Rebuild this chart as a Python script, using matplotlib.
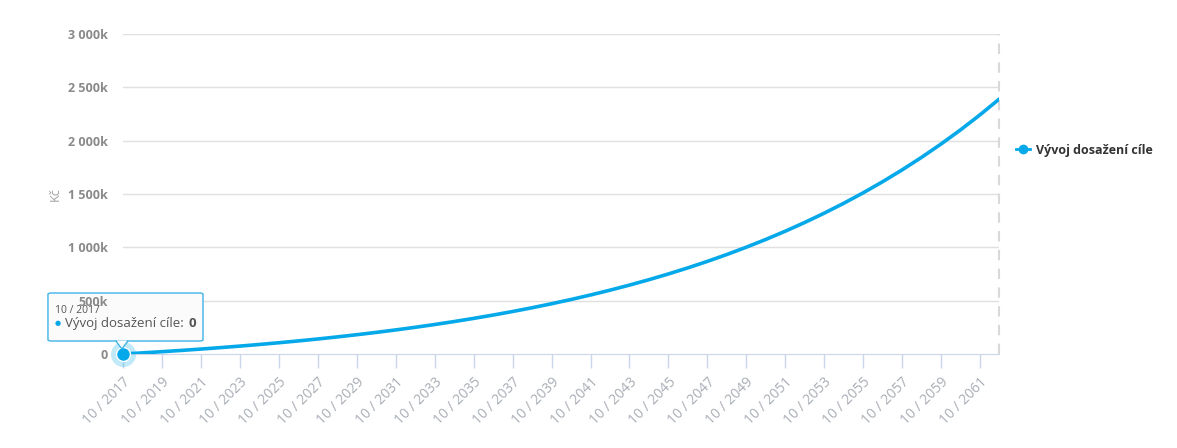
import matplotlib
matplotlib.use("Agg")
import matplotlib.pyplot as plt
from matplotlib.patches import FancyBboxPatch, Polygon
from matplotlib.lines import Line2D

# data (Kč, one point per October)
roky = list(range(2017, 2063))
hodnoty = [0, 10600, 21800, 33800, 46500, 60000, 74300, 89500, 105700, 122800,
           141000, 160400, 180900, 202700, 225900, 250500, 276600, 304400, 333900, 365200,
           398400, 433700, 471200, 511000, 553300, 598200, 645900, 696500, 750300, 807400,
           868100, 932500, 1001000, 1073600, 1150800, 1232700, 1319800, 1412200, 1510400, 1614600,
           1725300, 1842900, 1967700, 2100200, 2241000, 2390600]
y_ticks = [0, 500000, 1000000, 1500000, 2000000, 2500000, 3000000]
y_labels = ["0", "500k", "1 000k", "1 500k", "2 000k", "2 500k", "3 000k"]
x_ticks = list(range(2017, 2062, 2))
x_labels = ["10 / %d" % r for r in x_ticks]
serie = "Vývoj dosažení cíle"

modra = "#05a9e9"
plt.rcParams["font.family"] = ["Open Sans", "DejaVu Sans"]

fig = plt.figure(figsize=(11.77, 4.48), dpi=100)
ax = fig.add_axes([123.3 / 1177, 94 / 448, 876 / 1177, 320 / 448])

x = [r + 0.75 for r in roky]
ax.plot(x, hodnoty, color=modra, lw=2.6, zorder=3, solid_capstyle="round")

# gridlines by hand so the tick labels can sit above the tooltip
for t in y_ticks[1:]:
    ax.axhline(t, color="#e0e0e0", lw=1, zorder=1)

ax.set_xlim(2017.75, 2062.75)
ax.set_ylim(0, 3000000)
ax.set_yticks(y_ticks)
ax.set_yticklabels(y_labels, fontsize=9, fontweight="bold", color="#8a8a8a")
ax.tick_params(axis="y", length=0, pad=11)
ax.set_xticks([r + 0.75 for r in x_ticks])
ax.set_xticklabels(x_labels, rotation=45, ha="right", rotation_mode="anchor",
                   fontsize=10, color="#a8adb5")
ax.tick_params(axis="x", length=10, width=1, color="#ccd6eb", direction="out", pad=5)
ax.set_ylabel("Kč", color="#a0a0a0", fontsize=9)
ax.yaxis.set_label_coords(-0.07, 0.5)

for s in ["top", "right", "left"]:
    ax.spines[s].set_visible(False)
ax.spines["bottom"].set_color("#ccd6eb")
ax.yaxis.set_zorder(5)

# crosshair at the last point
ax.axvline(x[-1], color="#d9d9d9", lw=1.5, ls=(0, (5, 4)), zorder=2, clip_on=False)

# highlighted first point
ax.plot(x[0], hodnoty[0], "o", ms=18, color=modra, alpha=0.25, zorder=3.5, clip_on=False, mec="none")
ax.plot(x[0], hodnoty[0], "o", ms=10, color=modra, zorder=3.6, clip_on=False, mec="white", mew=1)

# tooltip
box = FancyBboxPatch((-0.086, 0.0406), 0.177, 0.15, boxstyle="round,pad=0,rounding_size=0.004",
                     transform=ax.transAxes, clip_on=False, facecolor="#fbfbfb",
                     edgecolor="#3fb4e6", lw=1, zorder=4)
ax.add_patch(box)
tip = Polygon([(-0.0085, 0.0406), (0.0053, 0.0406), (-0.0016, 0.016)], closed=True,
              transform=ax.transAxes, clip_on=False, facecolor="#fbfbfb",
              edgecolor="#3fb4e6", lw=1, zorder=4)
ax.add_patch(tip)
ax.add_patch(Polygon([(-0.0078, 0.0425), (0.0046, 0.0425), (-0.0016, 0.022)], closed=True,
                     transform=ax.transAxes, clip_on=False, facecolor="#fbfbfb",
                     edgecolor="none", zorder=4.1))
ax.text(-0.078, 0.137, x_labels[0], transform=ax.transAxes, fontsize=7.5, color="#555555",
        zorder=4.2, va="center")
ax.text(-0.0785, 0.094, "●", transform=ax.transAxes, fontsize=5, color=modra,
        zorder=4.2, va="center")
txt = ax.text(-0.0665, 0.094, serie + ": ", transform=ax.transAxes, fontsize=9.5,
              color="#555555", zorder=4.2, va="center")
ax.annotate("0", xy=(1, 0.5), xycoords=txt, xytext=(1, 0), textcoords="offset points",
            va="center", ha="left", fontsize=9.5, color="#555555", fontweight="bold",
            zorder=4.2, annotation_clip=False)

# legend
h = Line2D([], [], color=modra, lw=2, marker="o", ms=6)
leg = ax.legend([h], [serie], loc="center left", bbox_to_anchor=(1016 / 1177, 1 - 150 / 448),
                bbox_transform=fig.transFigure, frameon=False, handlelength=1.1,
                handletextpad=0.5, borderpad=0, borderaxespad=0,
                prop={"weight": "bold", "size": 9})
for t in leg.get_texts():
    t.set_color("#333333")

fig.savefig("out.png", dpi=100, facecolor="white")
